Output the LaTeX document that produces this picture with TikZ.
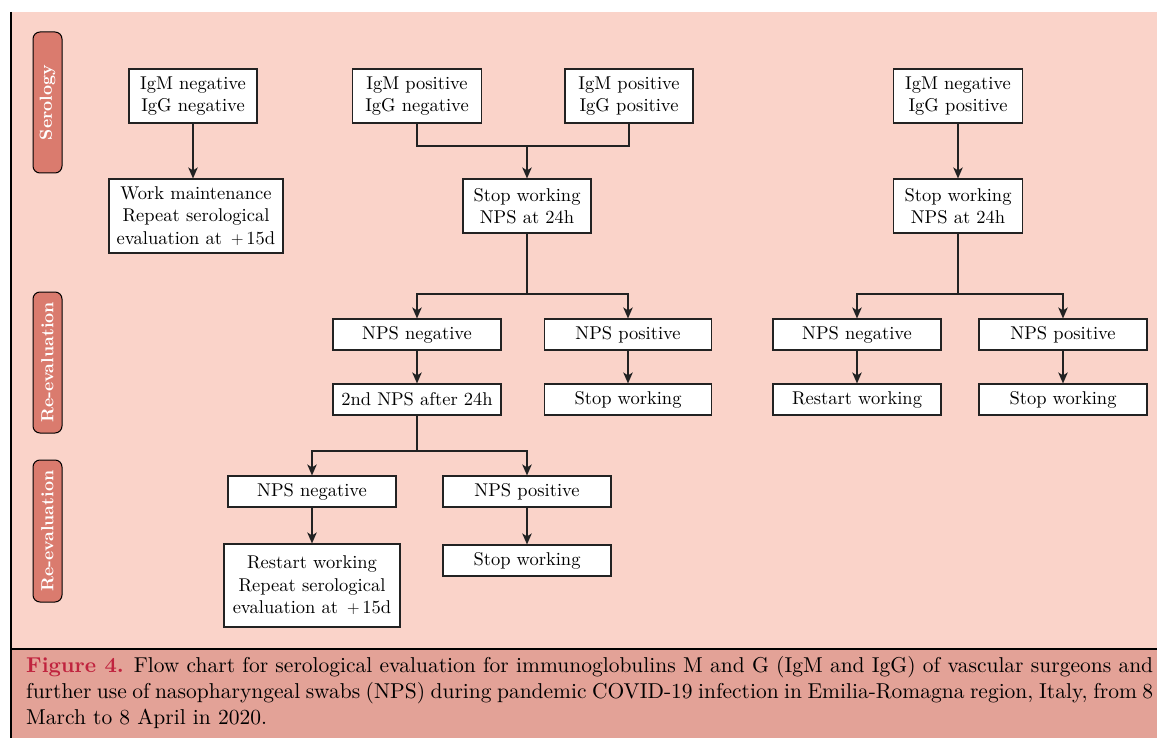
\documentclass[tikz,border=0pt]{standalone}
\usepackage{fontspec}
\setmainfont{lmroman10-regular.otf}[BoldFont=lmroman10-bold.otf, ItalicFont=lmroman10-italic.otf, BoldItalicFont=lmroman10-bolditalic.otf]
\usetikzlibrary{arrows.meta}
\definecolor{panelpink}{HTML}{FAD3C9}
\definecolor{capband}{HTML}{E3A297}
\definecolor{tabfill}{HTML}{DA7B6E}
\definecolor{figred}{HTML}{C0233E}
\definecolor{linegray}{HTML}{222222}
\newcommand{\boxfont}{\fontsize{18.5}{22.5}\selectfont}
\tikzset{
  fbox/.style={draw=linegray, line width=1.1pt, fill=white, align=center, inner sep=0pt, font=\boxfont},
  sidetab/.style={draw=black, line width=1pt, fill=tabfill, rounded corners=7pt, rotate=90,
    minimum height=29pt, inner sep=0pt, text=white, font=\fontsize{17.5}{20}\selectfont\bfseries},
  conn/.style={draw=linegray, line width=1.4pt},
  arr/.style={conn, -{Stealth[length=11pt,width=9.5pt,inset=3pt]}}
}
\begin{document}
\begin{tikzpicture}[x=1pt,y=-1pt]
\useasboundingbox (0,0) rectangle (1157,738);
% background panels
\fill[panelpink] (11,12) rectangle (1157,649);
\fill[capband] (11,649) rectangle (1157,738);
\draw[black, line width=1.6pt] (11,12) -- (11,738);
\draw[black, line width=1.6pt] (11,649) -- (1157,649);
% side tabs
\node[sidetab, minimum width=141pt] (t1) at (47.5,102.5) {Serology};
\node[sidetab, minimum width=141pt] (t2) at (47.5,362.5) {Re-evaluation};
\node[sidetab, minimum width=142pt] (t3) at (47.5,531) {Re-evaluation};
% boxes
\node[fbox, minimum width=128pt, minimum height=54pt] (A) at (193,96) {IgM negative\\IgG negative};
\node[fbox, minimum width=174pt, minimum height=74pt] (B) at (196,216) {Work maintenance\\Repeat serological\\evaluation at $\,+\,$15d};
\node[fbox, minimum width=129pt, minimum height=54pt] (C) at (417,96) {IgM positive\\IgG negative};
\node[fbox, minimum width=128pt, minimum height=54pt] (D) at (629,96) {IgM positive\\IgG positive};
\node[fbox, minimum width=128pt, minimum height=54pt] (E) at (527,206) {Stop working\\NPS at 24h};
\node[fbox, minimum width=168pt, minimum height=31pt] (F) at (417,334.5) {NPS negative};
\node[fbox, minimum width=167pt, minimum height=31pt] (G) at (628,334.5) {NPS positive};
\node[fbox, minimum width=168pt, minimum height=31pt] (H) at (417,399.5) {2nd NPS after 24h};
\node[fbox, minimum width=167pt, minimum height=31pt] (I) at (628,399.5) {Stop working};
\node[fbox, minimum width=168pt, minimum height=31pt] (J) at (312,491.5) {NPS negative};
\node[fbox, minimum width=168pt, minimum height=31pt] (K) at (527,491.5) {NPS positive};
\node[fbox, minimum width=176pt, minimum height=83pt] (L) at (312,585.5) {Restart working\\Repeat serological\\evaluation at $\,+\,$15d};
\node[fbox, minimum width=168pt, minimum height=31pt] (M) at (527,560.5) {Stop working};
\node[fbox, minimum width=129pt, minimum height=54pt] (N) at (958,96) {IgM negative\\IgG positive};
\node[fbox, minimum width=129pt, minimum height=54pt] (O) at (958,206) {Stop working\\NPS at 24h};
\node[fbox, minimum width=168pt, minimum height=31pt] (P) at (857,334.5) {NPS negative};
\node[fbox, minimum width=168pt, minimum height=31pt] (Q) at (1063,334.5) {NPS positive};
\node[fbox, minimum width=168pt, minimum height=31pt] (R) at (857,399.5) {Restart working};
\node[fbox, minimum width=168pt, minimum height=31pt] (S) at (1063,399.5) {Stop working};
% junction coordinates
\coordinate (j1) at (527,146);
\coordinate (j2) at (527,294);
\coordinate (j3) at (417,451);
\coordinate (j4) at (958,294);
% connectors
\draw[arr] (A.south) -- (A.south |- B.north);
\draw[conn] (C.south) |- (j1) -| (D.south);
\draw[arr] (j1) -- (E.north);
\draw[conn] (E.south) -- (j2);
\draw[arr] (j2) -| (F.north);
\draw[arr] (j2) -| (G.north);
\draw[arr] (F) -- (H);
\draw[arr] (G) -- (I);
\draw[conn] (H.south) -- (j3);
\draw[arr] (j3) -| (J.north);
\draw[arr] (j3) -| (K.north);
\draw[arr] (J) -- (L);
\draw[arr] (K) -- (M);
\draw[arr] (N) -- (O);
\draw[conn] (O.south) -- (j4);
\draw[arr] (j4) -| (P.north);
\draw[arr] (j4) -| (Q.north);
\draw[arr] (P) -- (R);
\draw[arr] (Q) -- (S);
% caption
\node[anchor=north west, text width=1127pt, align=justify, inner sep=0pt,
      font=\fontsize{21.5}{26}\selectfont] (cap) at (26,656)
  {{\color{figred}\bfseries Figure 4.} Flow chart for serological evaluation for immunoglobulins M and G (IgM and IgG) of vascular surgeons and\linebreak further use of nasopharyngeal swabs (NPS) during pandemic COVID-19 infection in Emilia-Romagna region, Italy, from 8\linebreak March to 8 April in 2020.};
\end{tikzpicture}
\end{document}
